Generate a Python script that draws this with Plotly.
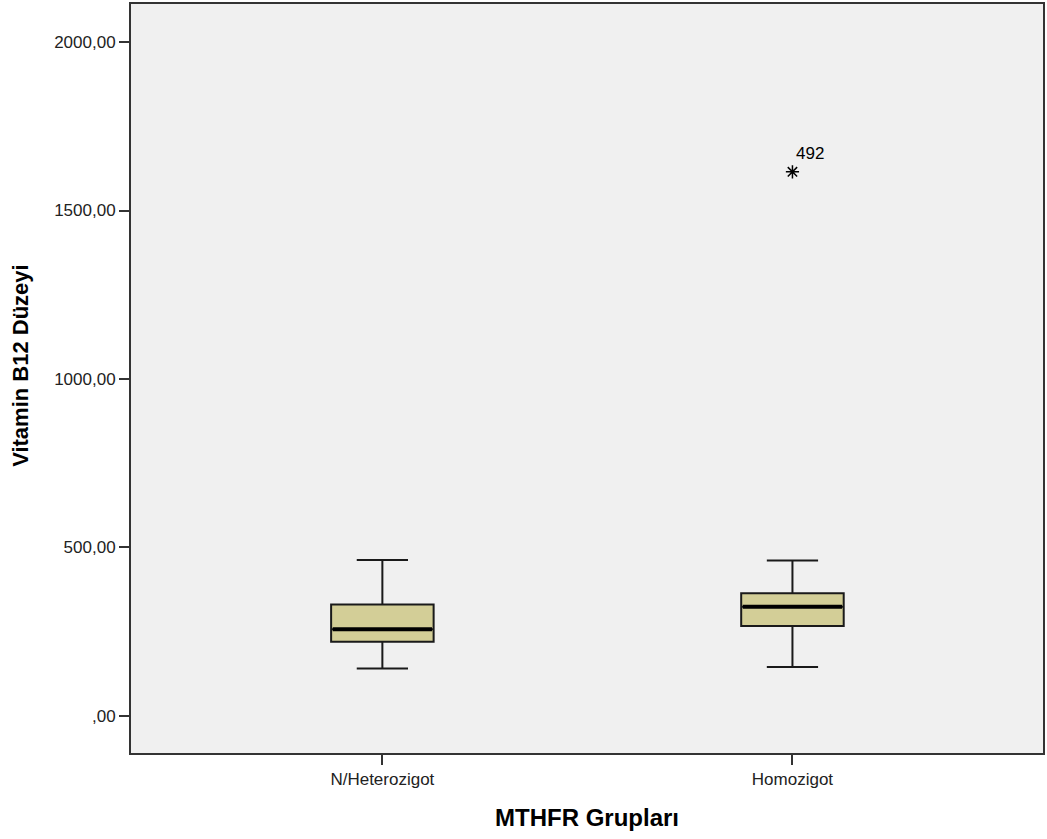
import plotly.graph_objects as go

categories = ["N/Heterozigot", "Homozigot"]
lower_whisker = [141, 145]
q1 = [220, 267]
median = [257, 324]
q3 = [331, 364]
upper_whisker = [463, 461]

outlier_cat = ["Homozigot"]
outlier_val = [1615]
outlier_label = ["492"]

y_tickvals = [0, 500, 1000, 1500, 2000]
y_ticktext = [",00", "500,00", "1000,00", "1500,00", "2000,00"]

FONT = "Liberation Sans, Arial, sans-serif"
BOX_W = 0.25
pos = list(range(len(categories)))

fig = go.Figure()
fig.add_trace(go.Box(
    x=pos, q1=q1, median=median, q3=q3,
    lowerfence=lower_whisker, upperfence=upper_whisker,
    fillcolor="#D3CE97", line=dict(color="#1a1a1a", width=2),
    width=BOX_W, whiskerwidth=0.5, boxpoints=False, showlegend=False,
    hoverinfo="skip",
))

# thicker median lines
for i in pos:
    fig.add_trace(go.Scatter(
        x=[i - BOX_W / 2 + 0.004, i + BOX_W / 2 - 0.004], y=[median[i], median[i]],
        mode="lines", line=dict(color="black", width=4),
        showlegend=False, hoverinfo="skip",
    ))

ox = [categories.index(c) for c in outlier_cat]
fig.add_trace(go.Scatter(
    x=ox, y=outlier_val, mode="markers",
    marker=dict(symbol="asterisk-open", size=11, color="black",
                line=dict(color="black", width=1.5)),
    showlegend=False, hoverinfo="skip",
))
for x, y, t in zip(ox, outlier_val, outlier_label):
    fig.add_annotation(x=x, y=y, text=t, showarrow=False, xanchor="left", yanchor="bottom",
                       xshift=2, yshift=7, font=dict(family=FONT, size=17, color="black"))

fig.add_annotation(xref="paper", yref="paper", x=(588 - 131) / 914, y=-0.086,
                   text="<b>MTHFR Grupları</b>", showarrow=False, xanchor="center", yanchor="middle",
                   font=dict(family=FONT, size=24, color="black"))
fig.add_annotation(xref="paper", yref="paper", x=-0.1205, y=0.517, textangle=-90,
                   text="<b>Vitamin B12 Düzeyi</b>", showarrow=False, xanchor="center", yanchor="middle",
                   font=dict(family=FONT, size=22, color="black"))

fig.update_layout(
    width=1047, height=839,
    margin=dict(l=131, r=2, t=4, b=86),
    paper_bgcolor="white", plot_bgcolor="#F0F0F0",
    font=dict(family=FONT, size=12, color="black"),
    xaxis=dict(
        type="linear", range=[-0.613, 1.611],
        tickvals=pos, ticktext=categories,
        showgrid=False, zeroline=False,
        showline=True, linecolor="#333333", linewidth=2, mirror=True,
        ticks="outside", ticklen=10, tickwidth=2, tickcolor="#333333",
        tickfont=dict(family=FONT, size=17, color="#222"),
    ),
    yaxis=dict(
        range=[-110, 2113],
        tickvals=y_tickvals, ticktext=y_ticktext,
        showgrid=False, zeroline=False,
        showline=True, linecolor="#333333", linewidth=2, mirror=True,
        ticks="outside", ticklen=10, tickwidth=2, tickcolor="#333333",
        tickfont=dict(family=FONT, size=17, color="#222"),
    ),
)

fig.write_html("out.html")
